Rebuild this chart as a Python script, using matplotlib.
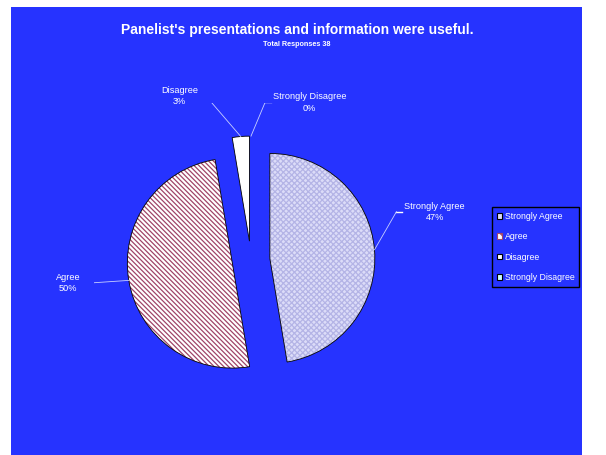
import numpy as np
import matplotlib
matplotlib.use('Agg')
import matplotlib.pyplot as plt
from matplotlib.patches import Rectangle, Wedge, Patch

plt.rcParams['font.family'] = ['Liberation Sans', 'DejaVu Sans']
plt.rcParams['hatch.linewidth'] = 0.9

categories = ['Strongly Agree', 'Agree', 'Disagree', 'Strongly Disagree']
responses = [18, 19, 1, 0]
total = sum(responses)

bg_blue = '#2633FF'
fills = ['#DCDCF8', '#FFFFFF', '#FFFFFF', '#CCFFFF']
hatches = ['xxxxxx', '\\\\\\\\\\\\\\', None, None]
hatch_cols = ['#B4B4E6', '#A04468', 'black', 'black']

fig = plt.figure(figsize=(6.06, 4.55), dpi=100)
fig.patch.set_facecolor('white')
# blue chart area
fig.patches.append(Rectangle((11 / 606, 0), 571 / 606, 448 / 455, transform=fig.transFigure,
                             facecolor=bg_blue, edgecolor='none', zorder=-5))

fig.text(297 / 606, 1 - 30 / 455, "Panelist's presentations and information were useful.",
         ha='center', va='center', color='white', fontsize=10, fontweight='bold')
fig.text(297 / 606, 1 - 44 / 455, 'Total Responses 38',
         ha='center', va='center', color='white', fontsize=5.2, fontweight='bold')

# pie axes: centre at (251, 260) px, 1 unit = 105 px
R = 105.0
cx, cy = 251, 455 - 260
span = 1.5
ax = fig.add_axes([(cx - span * R) / 606, (cy - span * R) / 455, 2 * span * R / 606, 2 * span * R / 455])
ax.set_facecolor('none')
ax.set_zorder(2)
explode = [0.18] * len(responses)
wedges, _ = ax.pie(responses, explode=explode, startangle=90, counterclock=False,
                   colors=fills, wedgeprops=dict(edgecolor='black', linewidth=0.6))
for w, h, hc, v in zip(wedges, hatches, hatch_cols, responses):
    if v == 0:
        w.set_linewidth(0)
    if h:
        w.set_hatch(h)
        w.set_edgecolor(hc)
        w.set_linewidth(0)
        # outline on top
        ax.add_patch(Wedge(w.center, w.r, w.theta1, w.theta2,
                           facecolor='none', edgecolor='black', linewidth=0.6))
ax.set_xlim(-span, span)
ax.set_ylim(-span, span)
ax.axis('off')

# label text positions (data units) and which side the leader tick sits
label_pos = [(1.75, 0.46), (-1.74, -0.22), (-0.68, 1.56), (0.56, 1.50)]
tick_side = ['left', 'right', 'right', 'left']
texts = []
for name, val, (lx, ly) in zip(categories, responses, label_pos):
    pct = f'{round(100 * val / total)}%'
    texts.append(ax.text(lx, ly, f'{name}\n{pct}', ha='center', va='center', color='white',
                         fontsize=6.6, linespacing=1.3))

fig.canvas.draw()
renderer = fig.canvas.get_renderer()
inv = ax.transData.inverted()
for w, t, side in zip(wedges, texts, tick_side):
    mid = np.deg2rad((w.theta1 + w.theta2) / 2)
    px = w.center[0] + w.r * np.cos(mid)
    py = w.center[1] + w.r * np.sin(mid)
    bb = t.get_window_extent(renderer)
    ymid = (bb.y0 + bb.y1) / 2
    if side == 'left':
        x_near, x_far = bb.x0 - 2, bb.x0 - 8
    else:
        x_near, x_far = bb.x1 + 2, bb.x1 + 8
    (a0, ty), (a1, _) = inv.transform([(x_near, ymid), (x_far, ymid)])
    ax.plot([a0, a1], [ty, ty], color='white', linewidth=1.0)
    ax.plot([a1, px], [ty, py], color='#C8D0FF', linewidth=0.6)

# legend
handles = [
    Patch(facecolor=fills[0], edgecolor='black', linewidth=0.8),
    Patch(facecolor=fills[1], edgecolor='#A04468', hatch='\\\\', linewidth=0.8),
    Patch(facecolor=fills[2], edgecolor='black', linewidth=0.8),
    Patch(facecolor=fills[3], edgecolor='black', linewidth=0.8),
]
leg = fig.legend(handles, categories, loc='upper left', bbox_to_anchor=(492 / 606, 1 - 207 / 455),
                 frameon=True, fancybox=False, facecolor=bg_blue, edgecolor='black', fontsize=6.3,
                 handlelength=0.6, handleheight=0.6, handletextpad=0.3, labelspacing=1.3,
                 borderpad=0.55, borderaxespad=0, framealpha=1)
leg.get_frame().set_linewidth(1.0)
leg.set_zorder(3)
for t in leg.get_texts():
    t.set_color('white')

fig.savefig('out.png', dpi=100, facecolor=fig.get_facecolor())
